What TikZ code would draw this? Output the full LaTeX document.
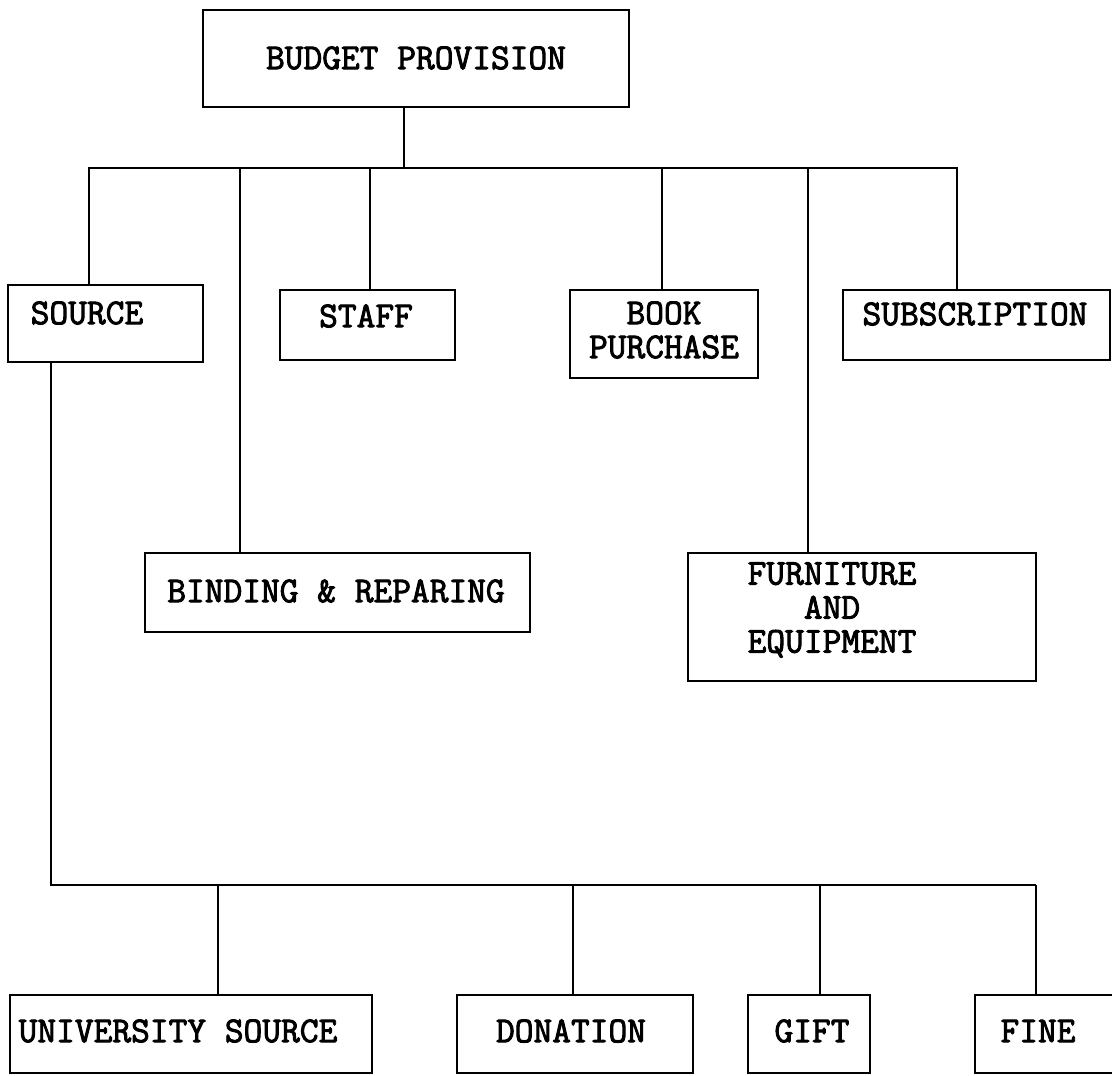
\documentclass[tikz,border=0pt]{standalone}
\usepackage{fontspec}
\newfontfamily\twfam{Latin Modern Mono}[FakeBold=2.5]
\newcommand\mkbox[5]{%
  \node[box, minimum width={(#4-#2)*0.5pt}, minimum height={(#5-#3)*0.5pt}]
    (#1) at ({(#2+#4)/2},{(#3+#5)/2}) {};}
\newcommand\twfont[1]{\twfam\fontsize{18.2}{#1}\selectfont}
\begin{document}
\begin{tikzpicture}[x=0.5pt,y=-0.5pt,
  box/.style={draw, line width=1.1pt, inner sep=0pt, outer sep=0pt, rectangle},
  lbl/.style={font=\twfont{17}, inner sep=0pt, align=center},
  lbltight/.style={lbl, font=\twfont{17}},
  conn/.style={line width=0.9pt}]
\useasboundingbox (0,0) rectangle (1112,1075);
% boxes
\mkbox{bp}{203}{10}{629}{107}
\mkbox{src}{8}{285}{203}{362}
\mkbox{staff}{280}{290}{455}{360}
\mkbox{book}{570}{290}{758}{378}
\mkbox{subs}{843}{290}{1110}{360}
\mkbox{bind}{145}{553}{530}{632}
\mkbox{furn}{688}{553}{1036}{681}
\mkbox{univ}{10}{995}{372}{1073}
\mkbox{don}{457}{995}{693}{1073}
\mkbox{gift}{748}{995}{870}{1073}
\mkbox{fine}{975}{995}{1125}{1073}
% labels
\node[lbl] (bpt) at (416,58) {BUDGET PROVISION};
\node[lbl] (srct) at (87,313) {SOURCE};
\node[lbl] (stafft) at (366,316) {STAFF};
\node[lbl] (bookt) at (664,330) {BOOK\\PURCHASE};
\node[lbl] (subst) at (975,314) {SUBSCRIPTION};
\node[lbl] (bindt) at (336,591) {BINDING \& REPARING};
\node[lbltight] (furnt) at (832,610) {FURNITURE\\AND\\EQUIPMENT};
\node[lbl] (univt) at (178,1031) {UNIVERSITY SOURCE};
\node[lbl] (dont) at (571,1031) {DONATION};
\node[lbl] (giftt) at (812,1031) {GIFT};
\node[lbl] (finet) at (1038,1031) {FINE};
% bus 1
\coordinate (tb) at (404,168);
\coordinate (b1l) at (88,168);
\coordinate (b1r) at (958,168);
\coordinate (jsrc) at (89,168);
\coordinate (jbind) at (240,168);
\coordinate (jstaff) at (370,168);
\coordinate (jbook) at (662,168);
\coordinate (jfurn) at (808,168);
\coordinate (jsubs) at (957,168);
\draw[conn] (tb |- bp.south) -- (tb);
\draw[conn] (b1l) -- (b1r);
\draw[conn] (jsrc) -- (jsrc |- src.north);
\draw[conn] (jbind) -- (jbind |- bind.north);
\draw[conn] (jstaff) -- (jstaff |- staff.north);
\draw[conn] (jbook) -- (jbook |- book.north);
\draw[conn] (jfurn) -- (jfurn |- furn.north);
\draw[conn] (jsubs) -- (jsubs |- subs.north);
% bus 2
\coordinate (b2l) at (51,885);
\coordinate (b2r) at (1036,885);
\coordinate (juniv) at (218,885);
\coordinate (jdon) at (573,885);
\coordinate (jgift) at (820,885);
\coordinate (jfine) at (1036,885);
\draw[conn] (b2l |- src.south) -- (b2l) -- (b2r);
\draw[conn] (juniv) -- (juniv |- univ.north);
\draw[conn] (jdon) -- (jdon |- don.north);
\draw[conn] (jgift) -- (jgift |- gift.north);
\draw[conn] (jfine) -- (jfine |- fine.north);
\end{tikzpicture}
\end{document}
